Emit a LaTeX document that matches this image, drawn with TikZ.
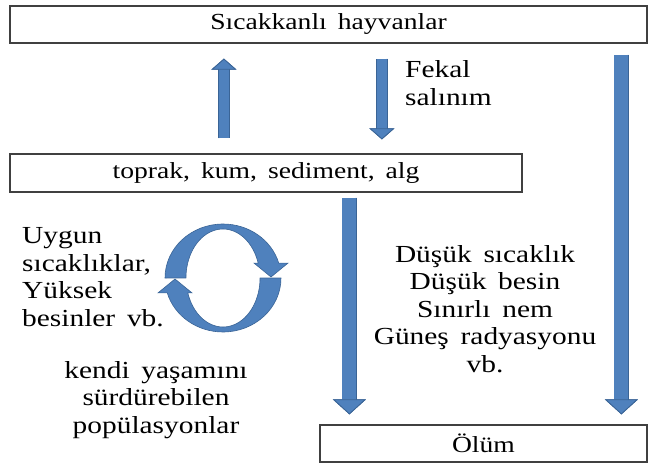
\documentclass[tikz,border=0pt]{standalone}
\usepackage{fontspec}
\setmainfont{Liberation Serif}[FakeStretch=1.2, WordSpace=1.6]
\usetikzlibrary{arrows.meta}
\definecolor{arrowfill}{HTML}{4F81BD}
\definecolor{arrowline}{HTML}{3A6496}
\definecolor{boxline}{HTML}{404040}

\begin{document}
\begin{tikzpicture}[
  x=1pt, y=1pt,
  font=\fontsize{23}{27.5}\selectfont,
  box/.style={
    rectangle, draw=boxline, line width=1.2pt,
    inner sep=0pt
  },
  txt/.style={align=center, inner sep=0pt,
    font=\fontsize{24.5}{27.5}\selectfont},
  shortarrow/.style={
    draw=arrowfill, line width=10.5pt,
    preaction={draw=arrowline, line width=12pt},
    -{Triangle[length=11pt, width=25pt, line width=0.8pt,
      color=arrowline, fill=arrowfill]}
  },
  longarrow/.style={
    draw=arrowfill, line width=14pt,
    preaction={draw=arrowline, line width=15.5pt},
    -{Triangle[length=15pt, width=33pt, line width=0.8pt,
      color=arrowline, fill=arrowfill]}
  },
  cyclearrow/.style={fill=arrowfill, draw=arrowline, line width=0.6pt},
]
  \useasboundingbox (0,0) rectangle (649,467);

  \node[box, minimum width=637pt, minimum height=37pt]
    (animals) at (328.5,442.5) {Sıcakkanlı hayvanlar};
  \node[box, minimum width=512pt, minimum height=38pt]
    (soil) at (266,294) {toprak, kum, sediment, alg};
  \node[box, minimum width=327pt, minimum height=37pt]
    (death) at (483.5,23.5) {Ölüm};

  \node[txt, anchor=west, align=left] (fekal) at (405,384) {Fekal\\salınım};
  \node[txt, anchor=west, align=left] (favour) at (22,190)
    {Uygun\\sıcaklıklar,\\Yüksek\\besinler vb.};
  \node[txt] (selfpop) at (156,67)
    {kendi yaşamını\\sürdürebilen\\popülasyonlar};
  \node[txt] (limits) at (485,158)
    {Düşük sıcaklık\\Düşük besin\\Sınırlı nem\\Güneş radyasyonu\\vb.};

  \draw[shortarrow, shorten <=15pt, shorten >=15pt]
    ([xshift=214.5pt]soil.north west) -- ([xshift=214.5pt]animals.south west);
  \draw[shortarrow, shorten <=15pt, shorten >=14pt]
    ([xshift=372.5pt]animals.south west) -- ([xshift=372.5pt]soil.north west);
  \draw[longarrow, shorten <=11pt, shorten >=10pt]
    ([xshift=612pt]animals.south west) -- ([xshift=302pt]death.north west);
  \draw[longarrow, shorten <=5pt, shorten >=10pt]
    ([xshift=340pt]soil.south west) -- ([xshift=30pt]death.north west);

  % cycle
  \begin{scope}[shift={(223,189)}]
    \foreach \turn in {0,180}
      \filldraw[cyclearrow, rotate=\turn]
        (-58,0) arc[start angle=180, end angle=16, x radius=58pt, y radius=54pt]
        -- (65,14.9) -- (48,1) -- (31,14.9) -- (35.2,14.9)
        arc[start angle=17.7, end angle=180, x radius=37pt, y radius=49pt]
        -- cycle;
  \end{scope}
\end{tikzpicture}
\end{document}
